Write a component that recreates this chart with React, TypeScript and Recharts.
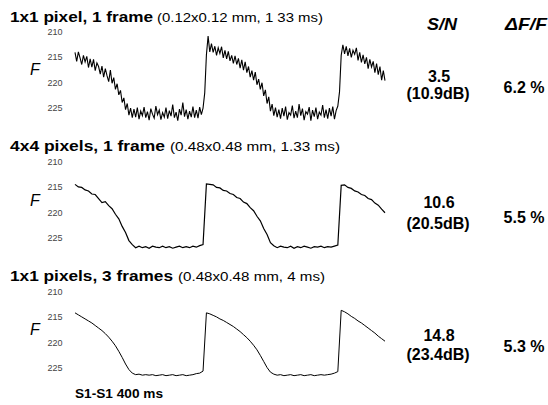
import React from "react";
import { LineChart, Line, XAxis, YAxis } from "recharts";

const timeMs = [
  0, 10, 20, 30, 40, 50, 60, 70, 80, 90, 100, 110, 120, 130, 140, 150, 160, 170, 180, 190,
  200, 210, 220, 230, 240, 250, 260, 270, 280, 290, 300, 310, 320, 330, 340, 350, 360, 370, 380, 390,
  400, 410, 420, 430, 440, 450, 460, 470, 480, 490, 500, 510, 520, 530, 540, 550, 560, 570, 580, 590,
  600, 610, 620, 630, 640, 650, 660, 670, 680, 690, 700, 710, 720, 730, 740, 750, 760, 770, 780, 790,
  800, 810, 820, 830, 840, 850, 860, 870, 880, 890, 900, 910, 920,
];

const timeMsFine = [
  0, 5, 10, 15, 20, 25, 30, 35, 40, 45, 50, 55, 60, 65, 70, 75, 80, 85, 90, 95,
  100, 105, 110, 115, 120, 125, 130, 135, 140, 145, 150, 155, 160, 165, 170, 175, 180, 185, 190, 195,
  200, 205, 210, 215, 220, 225, 230, 235, 240, 245, 250, 255, 260, 265, 270, 275, 280, 285, 290, 295,
  300, 305, 310, 315, 320, 325, 330, 335, 340, 345, 350, 355, 360, 365, 370, 375, 380, 385, 390, 395,
  400, 405, 410, 415, 420, 425, 430, 435, 440, 445, 450, 455, 460, 465, 470, 475, 480, 485, 490, 495,
  500, 505, 510, 515, 520, 525, 530, 535, 540, 545, 550, 555, 560, 565, 570, 575, 580, 585, 590, 595,
  600, 605, 610, 615, 620, 625, 630, 635, 640, 645, 650, 655, 660, 665, 670, 675, 680, 685, 690, 695,
  700, 705, 710, 715, 720, 725, 730, 735, 740, 745, 750, 755, 760, 765, 770, 775, 780, 785, 790, 795,
  800, 805, 810, 815, 820, 825, 830, 835, 840, 845, 850, 855, 860, 865, 870, 875, 880, 885, 890, 895,
  900, 905, 910, 915, 920,
];

// 1x1 pixel, 1 frame (noisy), sampled every 5 ms
const trace1 = [
  214.0, 215.8, 213.9, 215.1, 216.4, 214.6, 215.9, 214.8, 217.0, 215.3,
  216.9, 215.4, 217.6, 216.1, 216.8, 218.3, 216.7, 218.9, 217.2, 218.6,
  219.8, 217.5, 220.1, 219.0, 221.3, 220.2, 222.4, 221.5, 223.9, 223.0,
  225.3, 224.1, 226.4, 225.0, 226.9, 225.2, 226.8, 224.9, 227.2, 225.6,
  226.5, 224.8, 226.9, 225.7, 227.4, 225.1, 226.2, 227.0, 224.6, 226.3,
  225.4, 227.3, 225.9, 226.8, 224.9, 227.1, 225.5, 226.6, 224.3, 226.9,
  225.8, 227.5, 225.2, 226.4, 223.9, 226.7, 225.3, 227.2, 225.6, 226.8,
  224.7, 226.9, 225.4, 227.0, 224.8, 226.3, 225.0, 222.0, 214.5, 210.8,
  213.9, 212.3, 214.0, 212.8, 214.6, 213.1, 214.2, 212.9, 215.1, 213.6,
  215.3, 213.8, 215.7, 214.6, 216.2, 214.7, 216.4, 215.2, 217.1, 215.5,
  217.5, 215.9, 218.0, 216.8, 218.9, 217.6, 219.5, 217.9, 220.4, 219.3,
  221.3, 220.0, 222.6, 221.4, 224.1, 222.8, 225.6, 224.2, 226.5, 224.9,
  226.8, 225.3, 227.1, 225.0, 226.6, 224.7, 227.3, 225.9, 226.4, 224.5,
  227.0, 225.6, 226.9, 224.2, 226.5, 225.1, 227.4, 225.7, 226.2, 224.8,
  227.5, 225.4, 226.7, 224.9, 227.2, 225.8, 226.4, 224.4, 226.9, 225.3,
  227.1, 225.0, 226.6, 224.7, 227.2, 225.5, 224.6, 221.8, 214.6, 212.5,
  214.3, 212.8, 214.7, 213.2, 215.0, 213.6, 214.4, 213.1, 215.6, 214.0,
  216.0, 214.5, 216.3, 215.0, 217.2, 215.4, 216.9, 215.8, 218.0, 216.2,
  218.4, 216.8, 219.5, 217.6, 219.6,
];

// 4x4 pixels, 1 frame
const trace2 = [
  214.4, 214.9, 215.0, 215.5, 215.7, 216.3, 216.4, 217.2, 218.0, 217.8,
  218.6, 219.2, 220.3, 221.2, 222.7, 223.9, 225.5, 226.3, 226.9, 226.6,
  226.9, 226.7, 227.0, 226.6, 226.8, 226.9, 226.6, 226.9, 226.7, 227.0,
  226.8, 226.6, 226.9, 226.7, 226.9, 226.6, 226.8, 226.5, 226.3, 214.3,
  214.4, 214.5, 215.0, 215.1, 215.6, 215.7, 216.2, 216.4, 217.0, 217.2,
  217.9, 218.2, 219.0, 219.6, 220.7, 221.6, 223.1, 224.3, 225.9, 226.5,
  226.9, 226.6, 226.8, 226.9, 226.6, 227.0, 226.7, 226.9, 226.6, 226.8,
  227.0, 226.7, 226.8, 226.6, 226.9, 226.7, 226.8, 226.6, 226.4, 214.6,
  214.5, 215.0, 215.2, 215.7, 215.9, 216.4, 216.6, 217.2, 217.4, 218.1,
  218.5, 219.3, 220.0,
];

// 1x1 pixels, 3 frames
const trace3 = [
  214.1, 214.5, 214.9, 215.3, 215.7, 216.1, 216.6, 217.1, 217.6, 218.2,
  218.9, 219.7, 220.6, 221.7, 222.9, 224.2, 225.3, 226.0, 226.3, 226.2,
  226.4, 226.3, 226.4, 226.3, 226.5, 226.4, 226.3, 226.5, 226.4, 226.3,
  226.5, 226.4, 226.3, 226.5, 226.4, 226.3, 226.1, 226.0, 225.6, 214.1,
  214.3, 214.6, 214.9, 215.3, 215.6, 216.0, 216.4, 216.8, 217.3, 217.8,
  218.4, 219.0, 219.7, 220.5, 221.4, 222.5, 223.7, 224.9, 225.8, 226.2,
  226.4, 226.3, 226.5, 226.4, 226.3, 226.5, 226.4, 226.3, 226.5, 226.4,
  226.3, 226.5, 226.4, 226.3, 226.4, 226.3, 226.2, 226.0, 225.7, 213.6,
  213.9, 214.3, 214.8, 215.2, 215.7, 216.1, 216.6, 217.1, 217.6, 218.1,
  218.7, 219.2, 219.7,
];

const yTicks = [210, 215, 220, 225];

const panelTitles = ["1x1 pixel, 1 frame", "4x4 pixels, 1 frame", "1x1 pixels, 3 frames"];
const panelSubtitles = ["(0.12x0.12 mm, 1 33 ms)", "(0.48x0.48 mm, 1.33 ms)", "(0.48x0.48 mm, 4 ms)"];
const snValues = ["3.5", "10.6", "14.8"];
const snDb = ["(10.9dB)", "(20.5dB)", "(23.4dB)"];
const dffValues = ["6.2 %", "5.5 %", "5.3 %"];

const traces = [trace1, trace2, trace3];
const times = [timeMsFine, timeMs, timeMs];
const strokeWidths = [1.1, 1.2, 1.0];

const FONT = "'Liberation Sans', Arial, Helvetica, sans-serif";

const panelTop = [0, 130, 260];
const titleBoldLen = [143, 155, 163];
const titleSubX = [157, 170, 178];
const titleSubLen = [166, 170, 147];
const titleBase = [21.5, 150.5, 280.5];
const snBase = [82, 208, 341];
const dbBase = [99, 229, 360];
const dffBase = [93, 223, 352];
const fBase = [75, 206, 335];

const Tick = (props: any) => {
  const { y, payload } = props;
  return (
    <text x={55} y={y} dy={3} textAnchor="middle" fontSize={9} fill="#444" fontFamily={FONT}>
      {payload.value}
    </text>
  );
};

const Panel = ({ idx }: { idx: number }) => {
  const data = times[idx].map((t, i) => ({ t, v: traces[idx][i] }));
  return (
    <div style={{ position: "absolute", left: 0, top: panelTop[idx] }}>
      <LineChart width={548} height={135} data={data} margin={{ top: 27, right: 163, bottom: 1.6, left: 0 }}>
        <XAxis dataKey="t" type="number" domain={[0, 920]} hide />
        <YAxis
          type="number"
          domain={[209, 230]}
          reversed
          ticks={yTicks}
          width={75}
          axisLine={false}
          tickLine={false}
          tick={<Tick />}
          interval={0}
        />
        <Line
          type="linear"
          dataKey="v"
          stroke="#000"
          strokeWidth={strokeWidths[idx]}
          dot={false}
          isAnimationActive={false}
        />
      </LineChart>
    </div>
  );
};

export default function App() {
  return (
    <div style={{ position: "absolute", left: 0, top: 0, width: 548, height: 405, background: "#fff" }}>
      {[0, 1, 2].map((i) => (
        <Panel key={i} idx={i} />
      ))}
      <svg
        width={548}
        height={405}
        style={{ position: "absolute", left: 0, top: 0, pointerEvents: "none" }}
        fontFamily={FONT}
      >
        <text x={427} y={30} fontSize={17} fontWeight="bold" fontStyle="italic" textLength={30} lengthAdjust="spacingAndGlyphs">
          S/N
        </text>
        <text x={505} y={30} fontSize={17} fontWeight="bold" fontStyle="italic" textLength={42} lengthAdjust="spacingAndGlyphs">
          ΔF/F
        </text>
        {[0, 1, 2].map((i) => (
          <g key={i}>
            <text x={10} y={titleBase[i]} fontSize={15} fontWeight="bold" textLength={titleBoldLen[i]} lengthAdjust="spacingAndGlyphs">
              {panelTitles[i]}
            </text>
            <text x={titleSubX[i]} y={titleBase[i]} fontSize={12} textLength={titleSubLen[i]} lengthAdjust="spacingAndGlyphs">
              {panelSubtitles[i]}
            </text>
            <text x={35} y={fBase[i]} fontSize={16} fontStyle="italic" textAnchor="middle">
              F
            </text>
            <text x={439} y={snBase[i]} fontSize={16} fontWeight="bold" textAnchor="middle">
              {snValues[i]}
            </text>
            <text x={438} y={dbBase[i]} fontSize={16} fontWeight="bold" textAnchor="middle">
              {snDb[i]}
            </text>
            <text x={524} y={dffBase[i]} fontSize={16} fontWeight="bold" textAnchor="middle">
              {dffValues[i]}
            </text>
          </g>
        ))}
        <text x={75} y={398} fontSize={12} fontWeight="bold" textLength={88} lengthAdjust="spacingAndGlyphs">
          S1-S1  400 ms
        </text>
      </svg>
    </div>
  );
}
